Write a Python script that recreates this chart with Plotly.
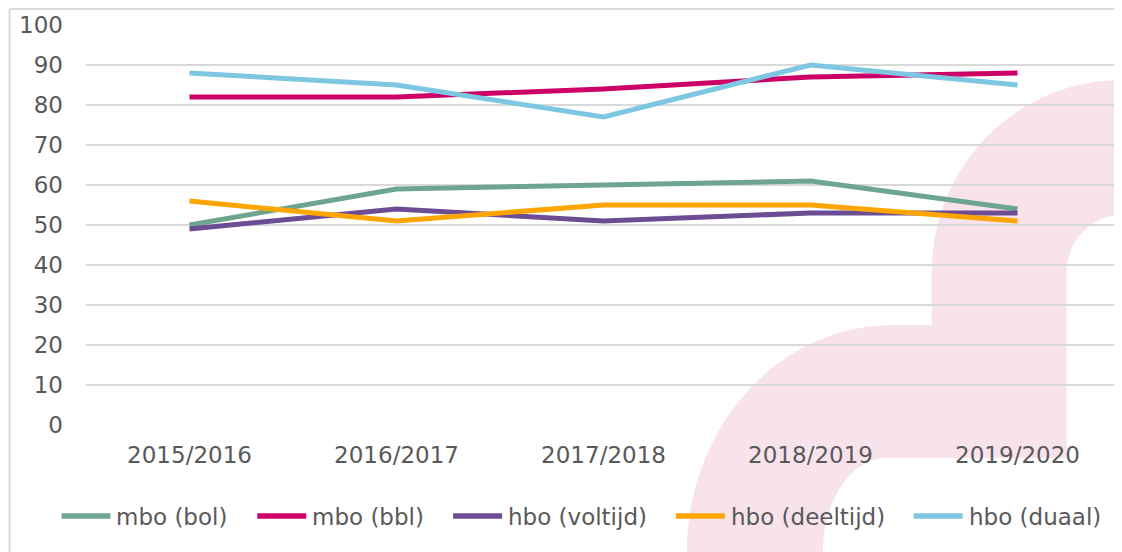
import plotly.graph_objects as go

years = ["2015/2016", "2016/2017", "2017/2018", "2018/2019", "2019/2020"]
mbo_bol = [50, 59, 60, 61, 54]
mbo_bbl = [82, 82, 84, 87, 88]
hbo_voltijd = [49, 54, 51, 53, 53]
hbo_deeltijd = [56, 51, 55, 55, 51]
hbo_duaal = [88, 85, 77, 90, 85]

series = [
    ("mbo (bol)", mbo_bol, "#6ea58f"),
    ("mbo (bbl)", mbo_bbl, "#cc0066"),
    ("hbo (voltijd)", hbo_voltijd, "#6c4d94"),
    ("hbo (deeltijd)", hbo_deeltijd, "#ffa500"),
    ("hbo (duaal)", hbo_duaal, "#7ec7e2"),
]

# legend layout (page pixels): start of each legend key line
legend_key_x = [59, 255, 451, 674, 912]
KEY_LEN, KEY_GAP, LEG_Y = 53, 3, 516

# the page body has an 8px margin; size the figure so it ends at the window edge
OFF = 8
W, H = 1122 - OFF, 552 - OFF
L, R, T = 85.5 - OFF, 0.5, 25 - OFF
B = H - (425 - OFF)
PW, PH = W - L - R, H - T - B
TXT = "#595959"


def px(x):  # page pixel -> paper x
    return (x - OFF - L) / PW


def py(y):  # page pixel -> paper y
    return (425 - y) / PH


fig = go.Figure()
for name, vals, col in series:
    fig.add_trace(go.Scatter(x=years, y=vals, name=name, mode="lines",
                             line=dict(color=col, width=5)))

# decorative background shape (page-pixel outline converted to paper coords)
pts = [
    ("M", [(687, 570)]),
    ("L", [(687, 552)]),
    ("C", [(687, 427), (779, 325), (893, 325)]),
    ("L", [(932, 325)]),
    ("L", [(932, 273)]),
    ("C", [(932, 166), (1017, 80), (1122, 80)]),
    ("L", [(1135, 80)]),
    ("L", [(1135, 215)]),
    ("L", [(1122, 215)]),
    ("C", [(1092, 215), (1067, 241), (1067, 273)]),
    ("L", [(1067, 458)]),
    ("L", [(887, 458)]),
    ("C", [(852, 458), (823, 500), (823, 552)]),
    ("L", [(823, 570)]),
]
path = ""
for cmd, ps in pts:
    path += cmd + " ".join(f"{px(a):.4f},{py(b):.4f}" for a, b in ps) + " "
path += "Z"

shapes = [
    dict(type="path", path=path, xref="paper", yref="paper", layer="below",
         fillcolor="#f8e3ec", line=dict(width=0)),
    dict(type="line", xref="paper", yref="paper", x0=px(9), x1=px(9),
         y0=py(9), y1=py(570), line=dict(color="#d9d9d9", width=2)),
    dict(type="line", xref="paper", yref="paper", x0=px(9), x1=px(1135),
         y0=py(9), y1=py(9), line=dict(color="#d9d9d9", width=2)),
]

annotations = []
for (name, _, col), kx in zip(series, legend_key_x):
    shapes.append(dict(type="line", xref="paper", yref="paper",
                       x0=px(kx + 2), x1=px(kx + KEY_LEN - 2),
                       y0=py(LEG_Y), y1=py(LEG_Y),
                       line=dict(color=col, width=5.5)))
    annotations.append(dict(text=name, xref="paper", yref="paper",
                            x=px(kx + KEY_LEN + KEY_GAP - 1), y=py(LEG_Y + 1),
                            xanchor="left", yanchor="middle", showarrow=False,
                            font=dict(size=23, color=TXT)))

fig.update_layout(
    width=W, height=H,
    margin=dict(l=L, r=R, t=T, b=B, pad=0),
    paper_bgcolor="white",
    plot_bgcolor="rgba(0,0,0,0)",
    font=dict(family="DejaVu Sans, Verdana, sans-serif", size=23, color=TXT),
    shapes=shapes,
    annotations=annotations,
    showlegend=False,
    xaxis=dict(type="category", range=[-0.5, 4.5], showgrid=False, zeroline=False,
               showline=False, ticks="", ticklabelstandoff=14),
    yaxis=dict(range=[0, 100], dtick=10, showgrid=True, gridcolor="#d9d9d9",
               gridwidth=2, zeroline=False, showline=False, ticks="",
               ticklabelstandoff=22),
)

fig.write_html("out.html")
